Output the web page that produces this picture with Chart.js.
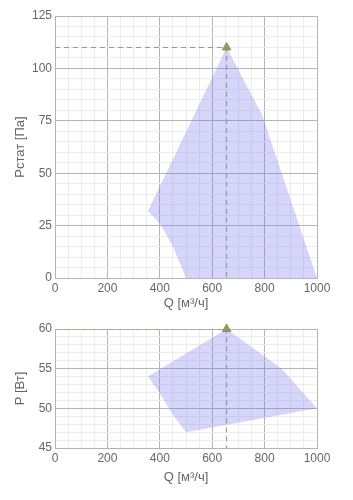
<!DOCTYPE html>
<html>
<head>
  <title>Q-P chart</title>
  <script src="https://cdn.jsdelivr.net/npm/chart.js@4"></script>
  <style>
    body { margin: 0; background: #fff; }
    .box { position: relative; width: 353px; }
  </style>
</head>
<body>

<div class="box" style="height:315px"><canvas id="pressure"></canvas></div>
<div class="box" style="height:185px"><canvas id="power"></canvas></div>

<script>
  // working point
  const workQ = 655;
  const workPst = 110;
  const workPow = 60;

  // static pressure envelope
  const pstQ = [655, 790, 1000, 500, 450, 400, 355];
  const pstP = [110, 78, 0, 0, 15, 26, 32];

  // power envelope
  const powQ = [655, 865, 1000, 500, 450, 400, 355];
  const powP = [60, 55, 50, 47, 49.2, 51.9, 54];

  const qTicks = [0, 200, 400, 600, 800, 1000];

  const font = "Arial, 'Liberation Sans', sans-serif";
  const textColor = '#666';

  function pts(xs, ys) {
    return xs.map((x, i) => ({x: x, y: ys[i]}));
  }

  function makeChart(id, env, yMin, yMax, yStep, yMajor, yTitle, pad, xH) {
    const data = pts(env[0], env[1]);
    data.push(data[0]);
    const workY = env[2];

    new Chart(document.getElementById(id), {
      type: 'line',
      data: {
        datasets: [
          {
            data: data,
            fill: 'shape',
            backgroundColor: 'rgba(120,120,240,0.3)',
            borderWidth: 0,
            borderColor: 'rgba(0,0,0,0)',
            pointRadius: 0,
            tension: 0
          },
          {
            data: [{x: 0, y: workY}, {x: workQ, y: workY}, {x: workQ, y: yMin}],
            fill: false,
            borderColor: '#9a9a70',
            borderWidth: 1,
            borderDash: [5, 4],
            pointRadius: 0
          },
          {
            data: [{x: workQ, y: workY}],
            showLine: false,
            clip: false,
            pointStyle: 'triangle',
            pointRadius: 5,
            backgroundColor: '#8e9c5e',
            borderColor: '#8e9c5e'
          }
        ]
      },
      options: {
        responsive: true,
        maintainAspectRatio: false,
        animation: false,
        layout: { padding: pad },
        plugins: { legend: { display: false }, tooltip: { enabled: false } },
        scales: {
          x: {
            type: 'linear',
            min: 0, max: 1000,
            afterFit: s => { s.height = xH; },
            ticks: {
              stepSize: 50,
              autoSkip: false,
              maxRotation: 0,
              padding: 3,
              color: textColor,
              font: { family: font, size: 12 },
              callback: v => qTicks.includes(v) ? v : ''
            },
            grid: {
              drawTicks: false,
              color: c => c.tick && c.tick.value % 200 === 0 ? '#b4b4b4' : '#ececec'
            },
            border: { color: '#b4b4b4' },
            title: {
              display: true,
              text: 'Q [м³/ч]',
              color: textColor,
              font: { family: font, size: 13 },
              padding: { top: 4, bottom: 4 }
            }
          },
          y: {
            min: yMin, max: yMax,
            afterFit: s => { s.width = 55; },
            ticks: {
              stepSize: yStep,
              autoSkip: false,
              padding: 3,
              color: textColor,
              font: { family: font, size: 12 },
              callback: v => (v - yMin) % yMajor === 0 ? v : ''
            },
            grid: {
              drawTicks: false,
              color: c => c.tick && (c.tick.value - yMin) % yMajor === 0 ? '#b4b4b4' : '#ececec'
            },
            border: { color: '#b4b4b4' },
            title: {
              display: true,
              text: yTitle,
              color: textColor,
              font: { family: font, size: 13 },
              padding: { top: 13, bottom: 4 }
            }
          }
        }
      }
    });
  }

  makeChart('pressure', [pstQ, pstP, workPst], 0, 125, 5, 25, 'Рстат [Па]',
    { top: 16, right: 36, left: 0, bottom: 0 }, 37);
  makeChart('power', [powQ, powP, workPow], 45, 60, 1, 5, 'P [Вт]',
    { top: 14, right: 36, left: 0, bottom: 11 }, 41);
</script>

</body>
</html>
